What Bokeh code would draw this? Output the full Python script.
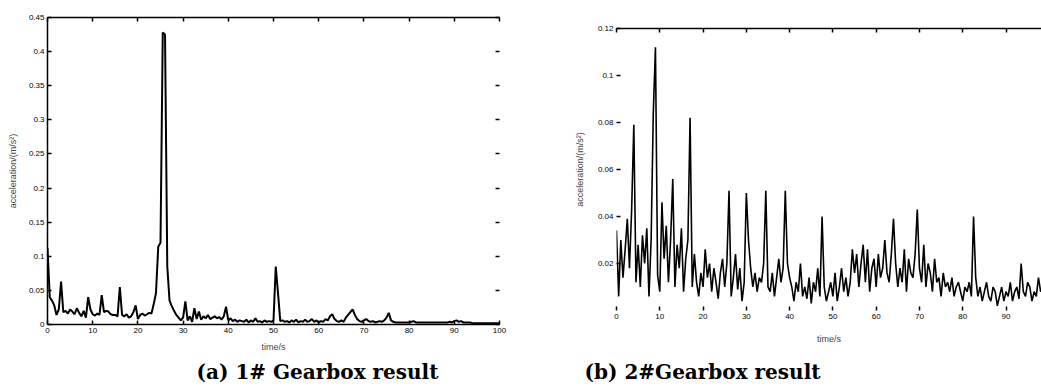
import numpy as np
from bokeh.plotting import figure
from bokeh.layouts import row, column
from bokeh.models import Range1d, FixedTicker, LinearAxis, ColumnDataSource, Spacer
from bokeh.core.properties import value
from bokeh.embed import file_html
from bokeh.resources import INLINE

# ---------------- data ----------------
# (a) 1# gearbox, sampled every 0.5 s, acceleration in m/s^2
gear1_acc = [
    0.112, 0.040, 0.035, 0.028, 0.014, 0.022, 0.063, 0.018, 0.020, 0.016,
    0.022, 0.019, 0.015, 0.024, 0.017, 0.012, 0.020, 0.010, 0.040, 0.022,
    0.015, 0.013, 0.016, 0.014, 0.043, 0.018, 0.020, 0.019, 0.015, 0.014,
    0.014, 0.012, 0.055, 0.014, 0.012, 0.015, 0.010, 0.012, 0.018, 0.028,
    0.008, 0.014, 0.016, 0.013, 0.015, 0.017, 0.016, 0.030, 0.046, 0.114,
    0.120, 0.428, 0.425, 0.085, 0.035, 0.027, 0.020, 0.014, 0.010, 0.006,
    0.010, 0.034, 0.006, 0.012, 0.004, 0.024, 0.008, 0.019, 0.007, 0.012,
    0.009, 0.014, 0.008, 0.010, 0.012, 0.009, 0.011, 0.007, 0.012, 0.026,
    0.006, 0.009, 0.005, 0.007, 0.004, 0.006, 0.005, 0.004, 0.007, 0.003,
    0.006, 0.004, 0.009, 0.004, 0.005, 0.003, 0.006, 0.004, 0.005, 0.004,
    0.006, 0.085, 0.046, 0.005, 0.006, 0.004, 0.005, 0.003, 0.006, 0.004,
    0.007, 0.003, 0.005, 0.004, 0.007, 0.004, 0.005, 0.008, 0.004, 0.006,
    0.003, 0.005, 0.004, 0.008, 0.006, 0.012, 0.015, 0.008, 0.005, 0.004,
    0.006, 0.004, 0.010, 0.014, 0.018, 0.022, 0.014, 0.008, 0.005, 0.004,
    0.006, 0.008, 0.005, 0.004, 0.005, 0.003, 0.004, 0.005, 0.004, 0.006,
    0.010, 0.017, 0.006, 0.004, 0.003, 0.003, 0.003, 0.003, 0.003, 0.003,
    0.003, 0.004, 0.005, 0.003, 0.003, 0.003, 0.003, 0.003, 0.003, 0.003,
    0.003, 0.003, 0.003, 0.003, 0.003, 0.003, 0.003, 0.003, 0.004, 0.003,
    0.005, 0.006, 0.004, 0.005, 0.003, 0.003, 0.003, 0.003, 0.002, 0.002,
    0.002, 0.002, 0.002, 0.002, 0.002, 0.002, 0.002, 0.002, 0.002, 0.002,
    0.002,
]
gear1_time = list(np.arange(len(gear1_acc)) * 0.5)

# (b) 2# gearbox, sampled every 0.5 s
gear2_acc = [
    0.034, 0.006, 0.030, 0.014, 0.026, 0.039, 0.018, 0.043, 0.079, 0.012,
    0.028, 0.010, 0.032, 0.020, 0.035, 0.006, 0.030, 0.084, 0.112, 0.015,
    0.008, 0.046, 0.022, 0.036, 0.012, 0.030, 0.056, 0.010, 0.028, 0.018,
    0.035, 0.008, 0.022, 0.030, 0.082, 0.010, 0.024, 0.012, 0.006, 0.016,
    0.010, 0.026, 0.014, 0.020, 0.008, 0.018, 0.012, 0.005, 0.016, 0.022,
    0.010, 0.020, 0.051, 0.006, 0.014, 0.024, 0.009, 0.018, 0.004, 0.012,
    0.050, 0.030, 0.018, 0.010, 0.016, 0.008, 0.014, 0.012, 0.020, 0.051,
    0.010, 0.008, 0.016, 0.006, 0.014, 0.022, 0.012, 0.018, 0.051, 0.020,
    0.014, 0.010, 0.004, 0.012, 0.008, 0.020, 0.006, 0.010, 0.005, 0.014,
    0.003, 0.012, 0.008, 0.018, 0.006, 0.040, 0.010, 0.004, 0.008, 0.012,
    0.006, 0.016, 0.004, 0.010, 0.018, 0.008, 0.014, 0.006, 0.012, 0.026,
    0.016, 0.024, 0.010, 0.020, 0.028, 0.012, 0.026, 0.008, 0.018, 0.022,
    0.010, 0.024, 0.014, 0.018, 0.030, 0.016, 0.012, 0.024, 0.039, 0.020,
    0.010, 0.018, 0.012, 0.026, 0.008, 0.022, 0.016, 0.014, 0.024, 0.043,
    0.018, 0.012, 0.028, 0.010, 0.020, 0.016, 0.008, 0.022, 0.012, 0.014,
    0.006, 0.016, 0.010, 0.012, 0.008, 0.014, 0.006, 0.010, 0.012, 0.008,
    0.004, 0.010, 0.008, 0.012, 0.006, 0.040, 0.014, 0.006, 0.010, 0.004,
    0.008, 0.012, 0.006, 0.004, 0.010, 0.008, 0.002, 0.006, 0.010, 0.004,
    0.008, 0.006, 0.012, 0.004, 0.008, 0.010, 0.005, 0.020, 0.008, 0.006,
    0.012, 0.010, 0.004, 0.008, 0.006, 0.014, 0.008, 0.010, 0.004, 0.006,
    0.008,
]
gear2_time = list(np.arange(len(gear2_acc)) * 0.5)

x_ticks = [0, 10, 20, 30, 40, 50, 60, 70, 80, 90, 100]
y_ticks_a = [0, 0.05, 0.1, 0.15, 0.2, 0.25, 0.3, 0.35, 0.4, 0.45]
y_ticks_b = [0.02, 0.04, 0.06, 0.08, 0.1, 0.12]
x_label = "time/s"
y_label = "acceleration/(m/s²)"
captions = ["(a) 1# Gearbox result", "(b) 2#Gearbox result"]

TICK_FONT = "Liberation Sans"


def style_axis(ax, show_line=True, labels=True):
    ax.major_tick_in = 4
    ax.major_tick_out = 0
    ax.minor_tick_line_color = None
    ax.major_tick_line_color = "black"
    ax.major_tick_line_width = 1.5
    ax.axis_line_width = 1.5
    ax.axis_line_color = "black" if show_line else None
    ax.major_label_text_font = TICK_FONT
    ax.major_label_text_font_size = "8px"
    ax.major_label_text_color = "black"
    ax.major_label_standoff = 3
    ax.axis_label_text_font = TICK_FONT
    ax.axis_label_text_font_size = "9px"
    ax.axis_label_text_font_style = "normal"
    if not labels:
        ax.major_label_text_font_size = "0px"
        ax.major_label_text_color = None


def make_fig(width, height, xr, yr, mb):
    p = figure(width=width, height=height, output_backend="svg",
               toolbar_location=None, x_range=xr, y_range=yr,
               min_border_left=mb[0], min_border_right=mb[1],
               min_border_top=mb[2], min_border_bottom=mb[3])
    p.grid.visible = False
    p.outline_line_color = None
    p.background_fill_color = "white"
    p.border_fill_color = "white"
    return p


# ---------------- (a) ----------------
p1 = make_fig(532, 355, Range1d(0, 100), Range1d(0, 0.45), (47, 33, 17, 31))
p1.line(gear1_time, gear1_acc, line_color="black", line_width=2)
p1.xaxis.ticker = FixedTicker(ticks=x_ticks)
p1.yaxis.ticker = FixedTicker(ticks=y_ticks_a)
p1.xaxis.axis_label = x_label
p1.yaxis.axis_label = y_label
style_axis(p1.xaxis[0])
style_axis(p1.yaxis[0])
p1.yaxis.axis_label_standoff = 8
p1.xaxis.axis_label_standoff = 6
top1 = LinearAxis(ticker=FixedTicker(ticks=x_ticks))
style_axis(top1, labels=False)
p1.add_layout(top1, "above")
right1 = LinearAxis(ticker=FixedTicker(ticks=y_ticks_a))
style_axis(right1, show_line=False, labels=False)
p1.add_layout(right1, "right")

# ---------------- (b) ----------------
p2 = make_fig(509, 344, Range1d(0, 98.2), Range1d(0, 0.12), (84, 0, 17, 45))
p2.line(gear2_time, gear2_acc, line_color="black", line_width=1.6)
p2.xaxis.ticker = FixedTicker(ticks=x_ticks)
p2.yaxis.ticker = FixedTicker(ticks=y_ticks_b)
p2.xaxis.axis_label = x_label
p2.yaxis.axis_label = y_label
style_axis(p2.xaxis[0], show_line=False)
style_axis(p2.yaxis[0], show_line=False)
p2.yaxis.axis_label_standoff = 10
p2.xaxis.axis_label_standoff = 12
top2 = LinearAxis(ticker=FixedTicker(ticks=x_ticks))
style_axis(top2, labels=False)
p2.add_layout(top2, "above")

# ---------------- captions ----------------
p3 = figure(width=1041, height=31, output_backend="svg", toolbar_location=None,
            x_range=Range1d(0, 1041), y_range=Range1d(0, 31),
            min_border=0, x_axis_location=None, y_axis_location=None)
p3.grid.visible = False
p3.outline_line_color = None
cap_src = ColumnDataSource(dict(x=[317, 702], y=[15, 15], text=captions))
p3.text(x="x", y="y", text="text", source=cap_src,
        text_font=value("DejaVu Serif"), text_font_style="bold",
        text_font_size="20px", text_color="black",
        text_align="center", text_baseline="middle")

layout = column(row(p1, column(Spacer(height=11, width=509), p2)), p3)
open("out.html", "w").write(file_html(layout, INLINE))
